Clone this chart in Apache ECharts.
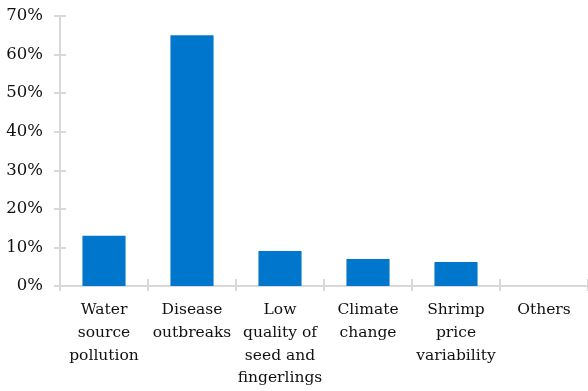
<!DOCTYPE html>
<html><head><meta charset="utf-8">
<script src="https://cdn.jsdelivr.net/npm/echarts@6/dist/echarts.min.js"></script>
<style>html,body{margin:0;padding:0;background:#fff}#c{width:588px;height:391px}</style>
</head><body><div id="c"></div>
<script>
const categories = ["Water\nsource\npollution", "Disease\noutbreaks", "Low\nquality of\nseed and\nfingerlings", "Climate\nchange", "Shrimp\nprice\nvariability", "Others"];
const values = [13, 65, 9.1, 7, 6.2, 0];
const yTicks = [0, 10, 20, 30, 40, 50, 60, 70];

const chart = echarts.init(document.getElementById('c'), null, {renderer: 'canvas'});
const font = 'DejaVu Serif';
const axisColor = '#d9d9d9';
chart.setOption({
  animation: false,
  textStyle: {fontFamily: font},
  grid: {left: 60, top: 16, width: 530, bottom: 105, containLabel: false},
  xAxis: [{
    type: 'category', data: categories, position: 'bottom',
    axisLine: {lineStyle: {color: axisColor, width: 2}},
    axisTick: {show: true, inside: false, length: 5, lineStyle: {color: axisColor, width: 2}},
    axisLabel: {color: '#111', fontFamily: font, fontSize: 15.5, lineHeight: 22.7, margin: 13, interval: 0}
  }, {
    type: 'category', data: categories, position: 'bottom',
    axisLine: {show: false},
    axisTick: {show: true, inside: true, length: 7, lineStyle: {color: axisColor, width: 2}},
    axisLabel: {show: false}
  }],
  yAxis: [{
    type: 'value', min: 0, max: 70, interval: 10,
    axisLine: {show: true, lineStyle: {color: axisColor, width: 2}},
    axisTick: {show: true, inside: false, length: 6, lineStyle: {color: axisColor, width: 2}},
    splitLine: {show: false},
    axisLabel: {color: '#111', fontFamily: font, fontSize: 16.5, margin: 17,
      formatter: v => yTicks.includes(v) ? v + '%' : ''}
  }, {
    type: 'value', min: 0, max: 70, interval: 10, position: 'left',
    axisLine: {show: false},
    axisTick: {show: true, inside: true, length: 6, lineStyle: {color: axisColor, width: 2}},
    splitLine: {show: false},
    axisLabel: {show: false}
  }],
  series: [{
    type: 'bar', data: values, xAxisIndex: 0, yAxisIndex: 0,
    barCategoryGap: '51%',
    itemStyle: {color: '#0077cc'}
  }]
});
</script></body></html>
